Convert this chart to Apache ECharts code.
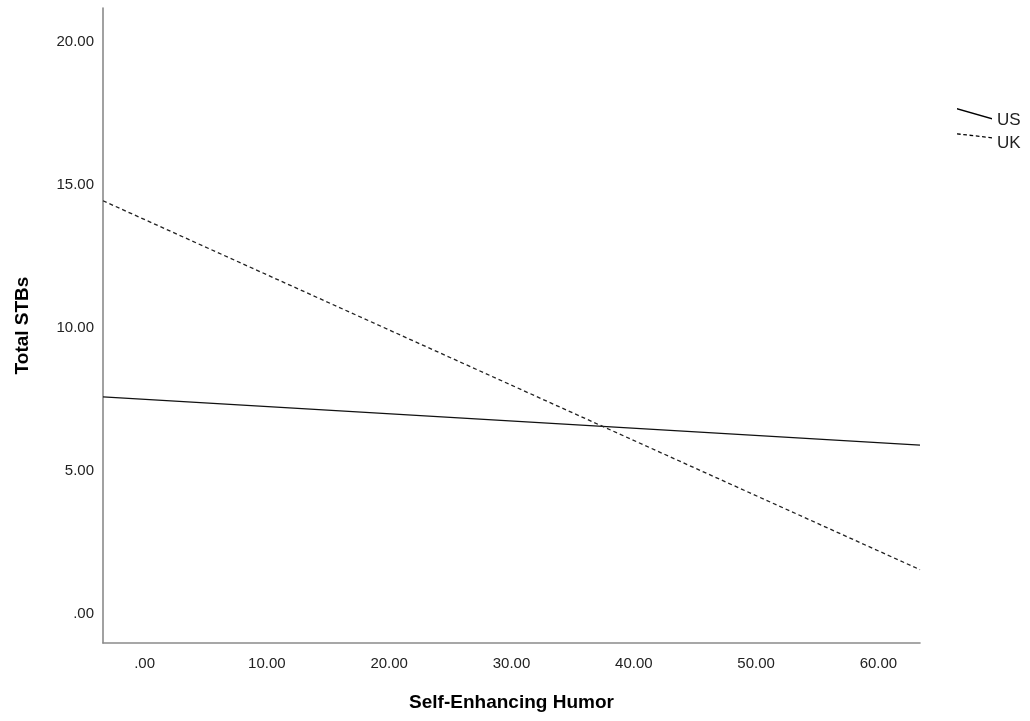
<!DOCTYPE html>
<html>
<head>
<meta charset="utf-8">
<script src="https://cdn.jsdelivr.net/npm/echarts@6/dist/echarts.min.js"></script>
<style>
html,body{margin:0;padding:0;background:#fff;}
#chart{width:1030px;height:721px;}
</style>
</head>
<body>
<div id="chart"></div>
<script>
// Data (fitted lines drawn across the x range)
const xValues = [-3.4, 63.4];
const usValues = [7.59, 5.91];
const ukValues = [14.44, 1.56];
const seriesNames = ['US', 'UK'];
const xAxisTitle = 'Self-Enhancing Humor';
const yAxisTitle = 'Total STBs';

function fmt(v) {
  if (Math.abs(v - Math.round(v)) > 1e-6) return '';
  const s = v.toFixed(2);
  return s.startsWith('0') ? s.slice(1) : s;
}
function pairs(xs, ys) { return xs.map((x, i) => [x, ys[i]]); }

// Slanted legend icons (solid and dashed), box 35 x 24
function solidIcon() {
  return 'path://M0,0L35,10L35,11.4L0,1.4Z M0,24L0.01,24';
}
function dashedIcon() {
  const x0 = 0, y0 = 2.2, x1 = 35, y1 = 6.2;
  const len = Math.hypot(x1 - x0, y1 - y0);
  const dash = 3.6, gap = 2.6, t = 1.3;
  let p = 'M0,0L0.01,0 M0,24L0.01,24 ';
  for (let s = 0; s < len; s += dash + gap) {
    const e = Math.min(len, s + dash);
    const ax = x0 + (x1 - x0) * s / len, ay = y0 + (y1 - y0) * s / len;
    const bx = x0 + (x1 - x0) * e / len, by = y0 + (y1 - y0) * e / len;
    p += 'M' + ax + ',' + ay + 'L' + bx + ',' + by + 'L' + bx + ',' + (by + t) + 'L' + ax + ',' + (ay + t) + 'Z ';
  }
  return 'path://' + p;
}

const chart = echarts.init(document.getElementById('chart'), null, {renderer: 'canvas'});
const labelFont = {fontFamily: 'Liberation Sans, Arial, sans-serif', fontSize: 15, color: '#222'};
const titleFont = {fontFamily: 'Liberation Sans, Arial, sans-serif', fontSize: 19, fontWeight: 'bold', color: '#000'};
const legendText = {fontFamily: 'Liberation Sans, Arial, sans-serif', fontSize: 17, color: '#222'};

chart.setOption({
  animation: false,
  backgroundColor: '#fff',
  grid: {left: 103, right: 110, top: 8, bottom: 78},
  legend: [
    {data: [{name: seriesNames[0], icon: solidIcon()}], left: 952, top: 103, orient: 'vertical',
     itemWidth: 35, itemHeight: 24, itemStyle: {borderWidth: 0}, textStyle: legendText, symbolKeepAspect: false},
    {data: [{name: seriesNames[1], icon: dashedIcon()}], left: 952, top: 126, orient: 'vertical',
     itemWidth: 35, itemHeight: 24, itemStyle: {borderWidth: 0}, textStyle: legendText, symbolKeepAspect: false}
  ],
  xAxis: {
    type: 'value', min: xValues[0], max: xValues[xValues.length - 1],
    name: xAxisTitle, nameLocation: 'middle', nameGap: 50, nameTextStyle: titleFont,
    axisLine: {show: true, onZero: false, lineStyle: {color: '#8a8a8a', width: 1.6}},
    axisTick: {show: false}, splitLine: {show: false},
    axisLabel: Object.assign({formatter: fmt, margin: 13, showMinLabel: false, showMaxLabel: false}, labelFont)
  },
  yAxis: {
    type: 'value', min: -1.0, max: 21.17,
    name: yAxisTitle, nameLocation: 'middle', nameGap: 71, nameTextStyle: titleFont,
    axisLine: {show: true, onZero: false, lineStyle: {color: '#8a8a8a', width: 1.6}},
    axisTick: {show: false}, splitLine: {show: false},
    axisLabel: Object.assign({formatter: fmt, margin: 9, showMinLabel: false, showMaxLabel: false}, labelFont)
  },
  series: [
    {name: seriesNames[0], type: 'line', data: pairs(xValues, usValues), showSymbol: false, symbol: 'none',
     itemStyle: {color: '#000'}, lineStyle: {color: '#111', width: 1.3, type: 'solid'}},
    {name: seriesNames[1], type: 'line', data: pairs(xValues, ukValues), showSymbol: false, symbol: 'none',
     itemStyle: {color: '#000'}, lineStyle: {color: '#222', width: 1.3, type: [4, 3]}}
  ]
});
</script>
</body>
</html>
